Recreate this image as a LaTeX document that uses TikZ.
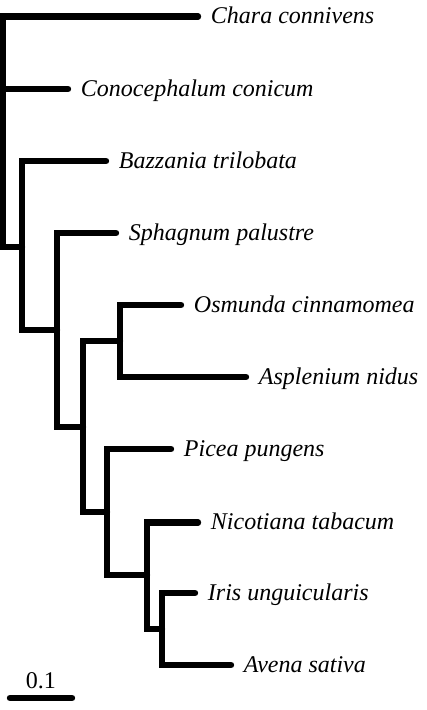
\documentclass[tikz,border=0pt]{standalone}
\usepackage{fontspec}
\setmainfont{Liberation Serif}
\usetikzlibrary{calc}
\begin{document}
\begin{tikzpicture}[x=0.75pt,y=-0.75pt,
  branch/.style={line width=4.8pt, line cap=round, line join=miter},
  taxon/.style={anchor=base west, inner sep=0pt, font=\fontsize{18}{20}\selectfont\itshape, xshift=9.5pt, yshift=-5.5pt},
  scalelbl/.style={anchor=base, inner sep=0pt, font=\fontsize{18}{20}\selectfont}]
\useasboundingbox (0,0) rectangle (427,710);
% internal nodes
\coordinate (root) at (3.2,89);
\coordinate (A) at (22,247);
\coordinate (B) at (57,330);
\coordinate (C) at (83,427);
\coordinate (D) at (120,341);
\coordinate (E) at (107,512);
\coordinate (F) at (147,575);
\coordinate (G) at (162,629);
% leaf tips
\coordinate (chara) at (198,16.5);
\coordinate (cono) at (68,89);
\coordinate (bazz) at (106,161);
\coordinate (sphag) at (116,233);
\coordinate (osm) at (181,305);
\coordinate (aspl) at (246,377);
\coordinate (picea) at (171,449);
\coordinate (nico) at (198,522.5);
\coordinate (iris) at (195,593);
\coordinate (avena) at (231,665);
% labels
\node[taxon] (tchara) at (chara) {Chara connivens};
\node[taxon] (tcono) at (cono) {Conocephalum conicum};
\node[taxon] (tbazz) at (bazz) {Bazzania trilobata};
\node[taxon] (tsphag) at (sphag) {Sphagnum palustre};
\node[taxon] (tosm) at (osm) {Osmunda cinnamomea};
\node[taxon] (taspl) at (aspl) {Asplenium nidus};
\node[taxon] (tpicea) at (picea) {Picea pungens};
\node[taxon] (tnico) at (nico) {Nicotiana tabacum};
\node[taxon] (tiris) at (iris) {Iris unguicularis};
\node[taxon] (tavena) at (avena) {Avena sativa};
% branches
\draw[branch] (root) |- (chara);
\draw[branch] (root) |- (cono);
\draw[branch] (root) |- (A);
\draw[branch] (A) |- (bazz);
\draw[branch] (A) |- (B);
\draw[branch] (B) |- (sphag);
\draw[branch] (B) |- (C);
\draw[branch] (C) |- (D);
\draw[branch] (C) |- (E);
\draw[branch] (D) |- (osm);
\draw[branch] (D) |- (aspl);
\draw[branch] (E) |- (picea);
\draw[branch] (E) |- (F);
\draw[branch] (F) |- (nico);
\draw[branch] (F) |- (G);
\draw[branch] (G) |- (iris);
\draw[branch] (G) |- (avena);
% scale bar
\coordinate (sb1) at (10,698);
\coordinate (sb2) at (72,698);
\draw[branch] (sb1) -- (sb2);
\node[scalelbl] (sblabel) at ($(sb1)!0.5!(sb2)+(0,-10)$) {0.1};
\end{tikzpicture}
\end{document}
